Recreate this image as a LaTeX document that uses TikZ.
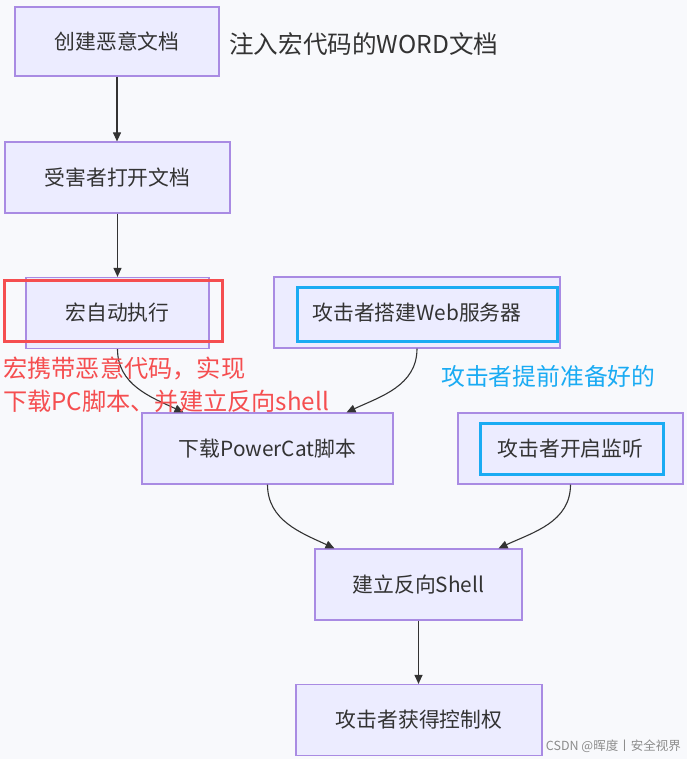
\documentclass[tikz,border=0pt]{standalone}
\usepackage{fontspec}
\setmainfont{Noto Sans CJK SC}
\usepackage{tikz}
\usetikzlibrary{arrows.meta, positioning, calc}

\definecolor{bgcol}{HTML}{F8F9FC}
\definecolor{boxfill}{HTML}{ECECFF}
\definecolor{boxline}{HTML}{A98BE3}
\definecolor{inkcol}{HTML}{333333}
\definecolor{notered}{HTML}{F54E50}
\definecolor{noteblue}{HTML}{1AABF3}

\begin{document}
\begin{tikzpicture}[x=1pt, y=1pt,
    box/.style={draw=boxline, line width=1.2pt, fill=boxfill, text=inkcol,
      font=\fontsize{20.8}{24}\selectfont, inner sep=0pt},
    flow/.style={draw=inkcol, line width=1.1pt, -{Triangle[length=9pt,width=8pt]}},
    redframe/.style={draw=notered, line width=3pt},
    blueframe/.style={draw=noteblue, line width=3pt}]
  \useasboundingbox[fill=bgcol] (0,0) rectangle (687,-759);

  % flow boxes
  \node[box, minimum width=204pt, minimum height=69pt] (create) at (117,-41.5) {创建恶意文档};
  \node[box, minimum width=225pt, minimum height=71pt] (open) at (117.5,-177.5) {受害者打开文档};
  \node[box, minimum width=183pt, minimum height=71pt] (macro) at (117.5,-313) {宏自动执行};
  \node[box, minimum width=286pt, minimum height=71pt] (web) at (417,-312.5) {攻击者搭建Web服务器};
  \node[box, minimum width=251pt, minimum height=71pt] (download) at (267.5,-448.5) {下载PowerCat脚本};
  \node[box, minimum width=225pt, minimum height=71pt] (listen) at (570.5,-448.5) {攻击者开启监听};
  \node[box, minimum width=207pt, minimum height=71pt] (shell) at (418.5,-584.5) {建立反向Shell};
  \node[box, minimum width=246pt, minimum height=71pt] (control) at (419,-720) {攻击者获得控制权};

  % connectors
  \draw[flow] (create.south) -- (create.south |- open.north);
  \draw[flow] (open.south) -- (open.south |- macro.north);
  \draw[flow] (macro.south) to[out=-90, in=155] ([xshift=-84pt]download.north);
  \draw[flow] (web.south) to[out=-90, in=25] ([xshift=79pt]download.north);
  \draw[flow] (download.south) to[out=-90, in=155] ([xshift=-84pt]shell.north);
  \draw[flow] (listen.south) to[out=-90, in=25] ([xshift=80pt]shell.north);
  \draw[flow] (shell.south) -- (shell.south |- control.north);

  % notes
  \draw[redframe] (4,-280) rectangle (222,-341);
  \draw[blueframe] ($(web.north west)+(24,-11)$) rectangle ($(web.south east)+(-3,7)$);
  \draw[blueframe] ($(listen.north west)+(23,-11)$) rectangle ($(listen.south east)+(-20,10)$);
  \node[anchor=west, text=inkcol, font=\fontsize{24.6}{28}\selectfont, inner sep=0pt] (wordnote) at (229,-44) {注入宏代码的WORD文档};
  \node[anchor=west, text=notered, font=\fontsize{24.2}{33}\selectfont, inner sep=0pt, align=left] (rednote) at (3,-385) {宏携带恶意代码，实现\\下载PC脚本、并建立反向shell};
  \node[anchor=west, text=noteblue, font=\fontsize{23.8}{28}\selectfont, inner sep=0pt] (bluenote) at (441,-376) {攻击者提前准备好的};
  \node[anchor=east, text=black!45, font=\fontsize{12.5}{14}\selectfont, inner sep=0pt] (mark) at (681,-746) {CSDN @晖度丨安全视界};
\end{tikzpicture}
\end{document}
